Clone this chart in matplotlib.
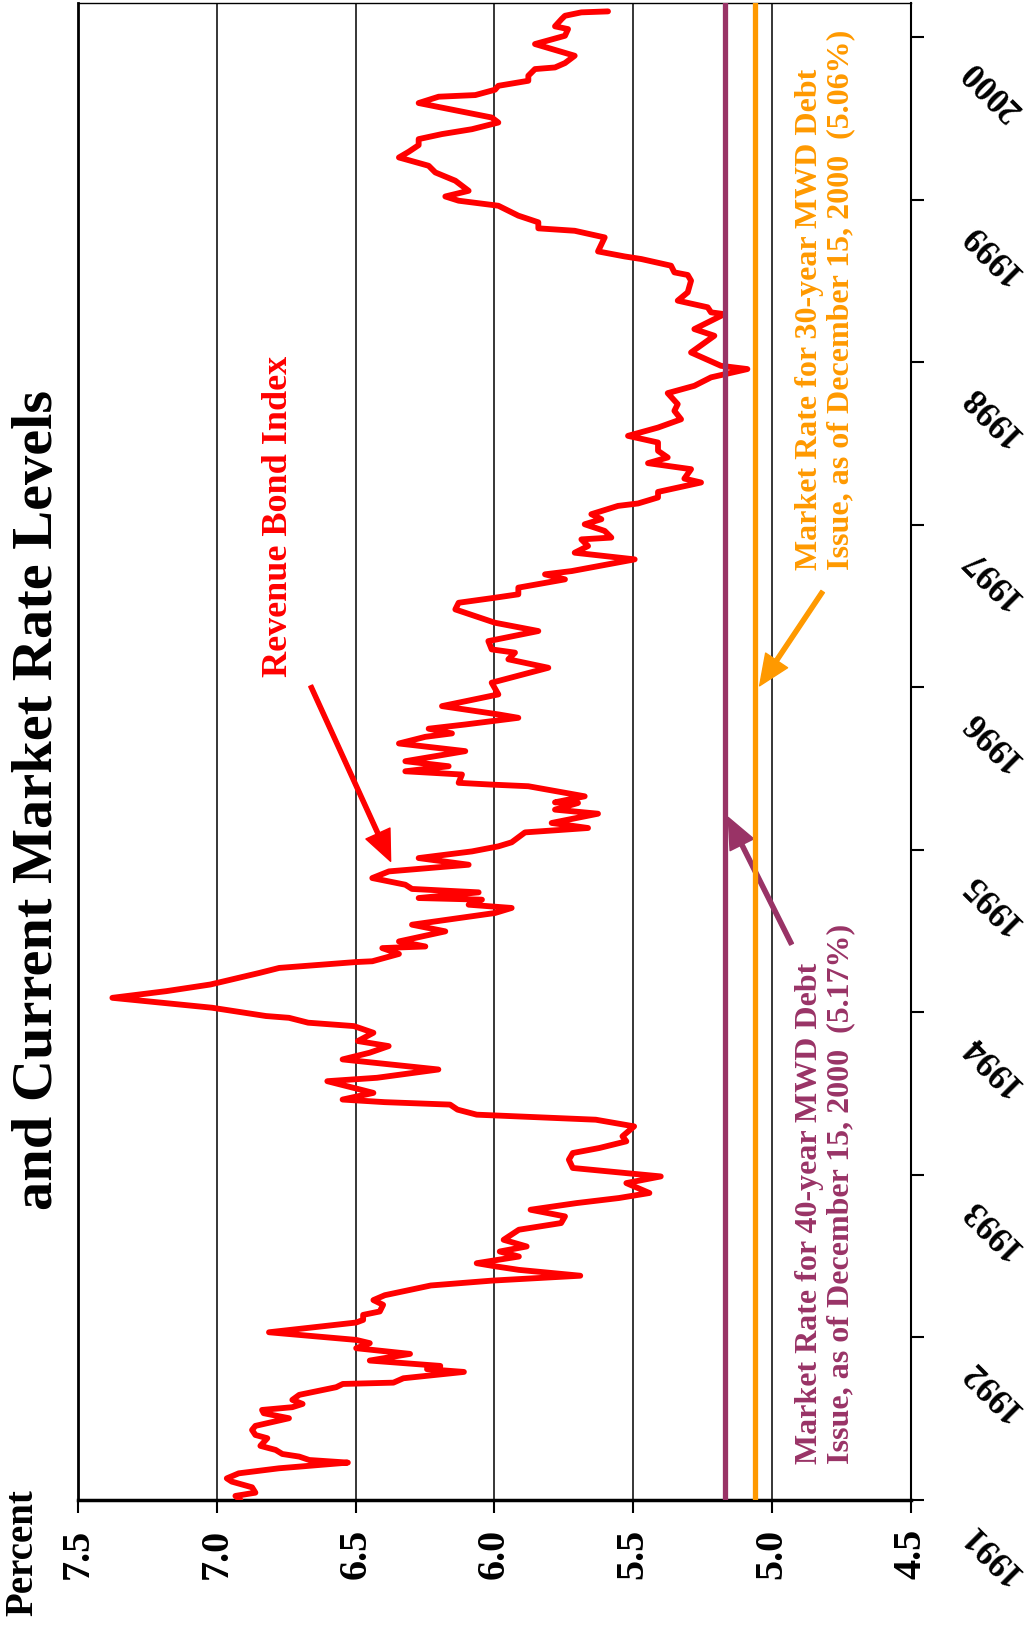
import matplotlib
matplotlib.use("Agg")
import matplotlib.pyplot as plt
from matplotlib.transforms import blended_transform_factory

plt.rcParams['font.family'] = ['Liberation Serif', 'DejaVu Serif']
plt.rcParams['font.weight'] = 'bold'

# Revenue Bond Index: (decimal year, percent)
idx_1991_92 = [
    (1991.000, 6.915), (1991.025, 6.933), (1991.045, 6.861), (1991.078, 6.873),
    (1991.113, 6.946), (1991.133, 6.964), (1991.164, 6.921), (1991.195, 6.776),
    (1991.230, 6.528), (1991.246, 6.667), (1991.267, 6.703), (1991.283, 6.764),
    (1991.308, 6.788), (1991.333, 6.843), (1991.380, 6.818), (1991.400, 6.861),
    (1991.431, 6.873), (1991.456, 6.861), (1991.503, 6.740), (1991.534, 6.831),
    (1991.554, 6.837), (1991.571, 6.728), (1991.591, 6.691), (1991.616, 6.728),
    (1991.647, 6.703), (1991.694, 6.570), (1991.714, 6.546), (1991.722, 6.364),
    (1991.749, 6.328), (1991.788, 6.110), (1991.805, 6.243), (1991.825, 6.195),
    (1991.858, 6.449), (1991.899, 6.304), (1991.934, 6.498), (1991.965, 6.449),
    (1991.985, 6.498), (1992.032, 6.812), (1992.092, 6.498), (1992.108, 6.473),
    (1992.139, 6.473), (1992.160, 6.413), (1992.201, 6.401),
]
idx_1992_94 = [
    (1992.230, 6.436), (1992.260, 6.395), (1992.320, 6.229), (1992.350, 6.008),
    (1992.380, 5.691), (1992.416, 5.912), (1992.437, 5.994), (1992.457, 6.064),
    (1992.498, 5.912), (1992.529, 5.981), (1992.560, 5.884), (1992.601, 5.967),
    (1992.663, 5.912), (1992.704, 5.760), (1992.745, 5.746), (1992.786, 5.870),
    (1992.827, 5.704), (1992.858, 5.552), (1992.889, 5.442), (1992.950, 5.525),
    (1992.991, 5.401), (1993.043, 5.718), (1993.094, 5.732), (1993.135, 5.718),
    (1993.166, 5.622), (1993.207, 5.525), (1993.238, 5.539), (1993.299, 5.497),
    (1993.340, 5.635), (1993.371, 6.064), (1993.402, 6.133), (1993.433, 6.160),
    (1993.448, 6.395), (1993.464, 6.547), (1993.505, 6.436), (1993.577, 6.602),
    (1993.598, 6.423), (1993.649, 6.202), (1993.711, 6.547), (1993.752, 6.450),
    (1993.793, 6.381), (1993.824, 6.492), (1993.875, 6.436), (1993.916, 6.506),
    (1993.937, 6.671), (1993.967, 6.740), (1993.978, 6.823), (1994.029, 7.017),
    (1994.090, 7.376), (1994.131, 7.182), (1994.172, 7.023), (1994.202, 6.948),
]
idx_1994_96 = [
    (1994.243, 6.847), (1994.274, 6.775), (1994.310, 6.500), (1994.315, 6.440),
    (1994.360, 6.344), (1994.396, 6.404), (1994.406, 6.249), (1994.437, 6.344),
    (1994.499, 6.177), (1994.540, 6.297), (1994.612, 5.998), (1994.643, 5.938),
    (1994.663, 6.093), (1994.694, 6.045), (1994.704, 6.273), (1994.739, 6.057),
    (1994.760, 6.297), (1994.786, 6.321), (1994.827, 6.440), (1994.868, 6.380),
    (1994.909, 6.093), (1994.950, 6.273), (1994.991, 6.081), (1995.022, 5.986),
    (1995.047, 5.938), (1995.108, 5.890), (1995.135, 5.663), (1995.166, 5.794),
    (1995.223, 5.627), (1995.248, 5.782), (1995.289, 5.699), (1995.293, 5.782),
    (1995.330, 5.675), (1995.392, 5.878), (1995.402, 6.010), (1995.413, 6.129),
    (1995.464, 6.117), (1995.484, 6.321), (1995.515, 6.165), (1995.546, 6.321),
    (1995.608, 6.105), (1995.655, 6.344), (1995.696, 6.249), (1995.717, 6.153),
    (1995.746, 6.237), (1995.772, 6.105), (1995.813, 5.914), (1995.834, 5.986),
    (1995.885, 6.189), (1995.957, 5.986), (1996.029, 6.010), (1996.121, 5.806),
    (1996.173, 5.950), (1996.214, 5.926),
]
idx_1996_98 = [
    (1996.234, 6.010), (1996.285, 6.022), (1996.347, 5.842), (1996.398, 5.998),
    (1996.480, 6.141), (1996.521, 6.129), (1996.552, 5.998), (1996.573, 5.914),
    (1996.614, 5.914), (1996.665, 5.746), (1996.696, 5.818), (1996.716, 5.722),
    (1996.788, 5.495), (1996.829, 5.711), (1996.870, 5.663), (1996.911, 5.687),
    (1996.922, 5.579), (1996.963, 5.603), (1997.004, 5.675), (1997.035, 5.615),
    (1997.066, 5.651), (1997.117, 5.555), (1997.132, 5.483), (1997.169, 5.411),
    (1997.203, 5.411), (1997.261, 5.256), (1997.285, 5.316), (1997.343, 5.292),
    (1997.380, 5.447), (1997.415, 5.376), (1997.456, 5.411), (1997.507, 5.411),
    (1997.548, 5.519), (1997.599, 5.411), (1997.650, 5.328), (1997.702, 5.352),
    (1997.743, 5.340), (1997.811, 5.376), (1997.856, 5.280), (1997.908, 5.220),
    (1997.959, 5.089), (1997.979, 5.184), (1998.061, 5.292), (1998.164, 5.208),
    (1998.205, 5.280),
]
idx_1998_00 = [
    (1998.297, 5.172), (1998.308, 5.220), (1998.339, 5.232), (1998.380, 5.340),
    (1998.431, 5.304), (1998.503, 5.292), (1998.538, 5.304), (1998.554, 5.352),
    (1998.595, 5.364), (1998.636, 5.471), (1998.652, 5.531), (1998.683, 5.627),
    (1998.769, 5.603), (1998.810, 5.711), (1998.825, 5.842), (1998.862, 5.842),
    (1998.903, 5.914), (1998.964, 5.986), (1998.995, 6.129), (1999.021, 6.177),
    (1999.056, 6.093), (1999.118, 6.141), (1999.169, 6.213), (1999.210, 6.237),
    (1999.261, 6.344), (1999.296, 6.309), (1999.337, 6.273), (1999.374, 6.273),
    (1999.405, 6.189), (1999.435, 6.081), (1999.476, 5.986), (1999.507, 6.010),
    (1999.596, 6.273), (1999.635, 6.201), (1999.645, 6.069), (1999.678, 5.998),
    (1999.702, 5.986), (1999.733, 5.878), (1999.764, 5.878), (1999.805, 5.854),
    (1999.815, 5.782), (1999.842, 5.746), (1999.887, 5.711), (1999.959, 5.854),
    (2000.010, 5.746), (2000.051, 5.735), (2000.068, 5.782), (2000.113, 5.758),
    (2000.133, 5.746), (2000.154, 5.687), (2000.160, 5.591),
]

rate_40yr = 5.17
rate_30yr = 5.06
year_ticks = list(range(1991, 2001))
pct_ticks = [7.5, 7.0, 6.5, 6.0, 5.5, 5.0, 4.5]

index = idx_1991_92 + idx_1992_94 + idx_1994_96 + idx_1996_98 + idx_1998_00
index_years = [p[0] for p in index]
index_pct = [p[1] for p in index]

RED = '#FF0000'
PURPLE = '#993366'
ORANGE = '#FF9900'

fig = plt.figure(figsize=(10.34, 16.29), dpi=100)
ax = fig.add_axes([0.0754, 0.0792, 0.8056, 0.9188])

# page is turned sideways: percent runs along the bottom, time runs upward
for p in pct_ticks[1:-1]:
    ax.axvline(p, color='black', lw=1.1, zorder=1)
ax.plot(index_pct, index_years, color=RED, lw=4.2, solid_joinstyle='round',
        solid_capstyle='round', zorder=3)
ax.axvline(rate_40yr, color=PURPLE, lw=3.8, zorder=4)
ax.axvline(rate_30yr, color=ORANGE, lw=3.8, zorder=4)

ax.set_xlim(7.5, 4.5)
ax.set_ylim(1991, 2000.21)
ax.set_xticks(pct_ticks)
ax.set_xticklabels([f'{p:.1f}' for p in pct_ticks], rotation=90,
                   fontsize=29, fontweight='bold')
ax.yaxis.tick_right()
ax.set_yticks(year_ticks)
ax.set_yticklabels([])
ax.tick_params(axis='x', direction='out', length=9, width=1.5, pad=12)
ax.tick_params(axis='y', direction='out', length=9, width=1.5)
ax.spines['left'].set_linewidth(2)
ax.spines['bottom'].set_linewidth(2.5)
ax.spines['right'].set_linewidth(1.5)
ax.spines['top'].set_linewidth(1)

trans = blended_transform_factory(ax.transAxes, ax.transData)
for yr in year_ticks:
    ax.text(1.068, yr - 0.17, str(yr), transform=trans, rotation=135,
            rotation_mode='anchor', ha='right', va='center',
            fontsize=25, fontweight='bold', clip_on=False)

# labels and pointers
ax.text(6.778, 1997.05, 'Revenue Bond Index', rotation=90, color=RED,
        fontsize=26, ha='center', va='center')
ax.annotate('', xy=(6.374, 1994.93), xytext=(6.662, 1996.01),
            arrowprops=dict(facecolor=RED, edgecolor=RED, width=3,
                            headwidth=19, headlength=22, shrink=0))

ax.text(4.81, 1996.72,
        'Market Rate for 30-year MWD Debt\nIssue, as of December 15, 2000  (5.06%)',
        rotation=90, color=ORANGE, fontsize=23, ha='center', va='bottom',
        multialignment='left', linespacing=1.1)
ax.annotate('', xy=(5.045, 1996.01), xytext=(4.818, 1996.59),
            arrowprops=dict(facecolor=ORANGE, edgecolor=ORANGE, width=3,
                            headwidth=19, headlength=22, shrink=0))

ax.text(4.81, 1991.22,
        'Market Rate for 40-year MWD Debt\nIssue, as of December 15, 2000  (5.17%)',
        rotation=90, color=PURPLE, fontsize=23, ha='center', va='bottom',
        multialignment='left', linespacing=1.1)
ax.annotate('', xy=(5.158, 1995.20), xytext=(4.930, 1994.42),
            arrowprops=dict(facecolor=PURPLE, edgecolor=PURPLE, width=3,
                            headwidth=19, headlength=22, shrink=0))

fig.text(0.0368, 0.509, 'and Current Market Rate Levels', rotation=90,
         fontsize=42, fontweight='bold', ha='center', va='center')
fig.text(0.022, 0.0467, 'Percent', rotation=90, fontsize=28,
         fontweight='bold', ha='center', va='center')

fig.savefig('out.png', dpi=100)
